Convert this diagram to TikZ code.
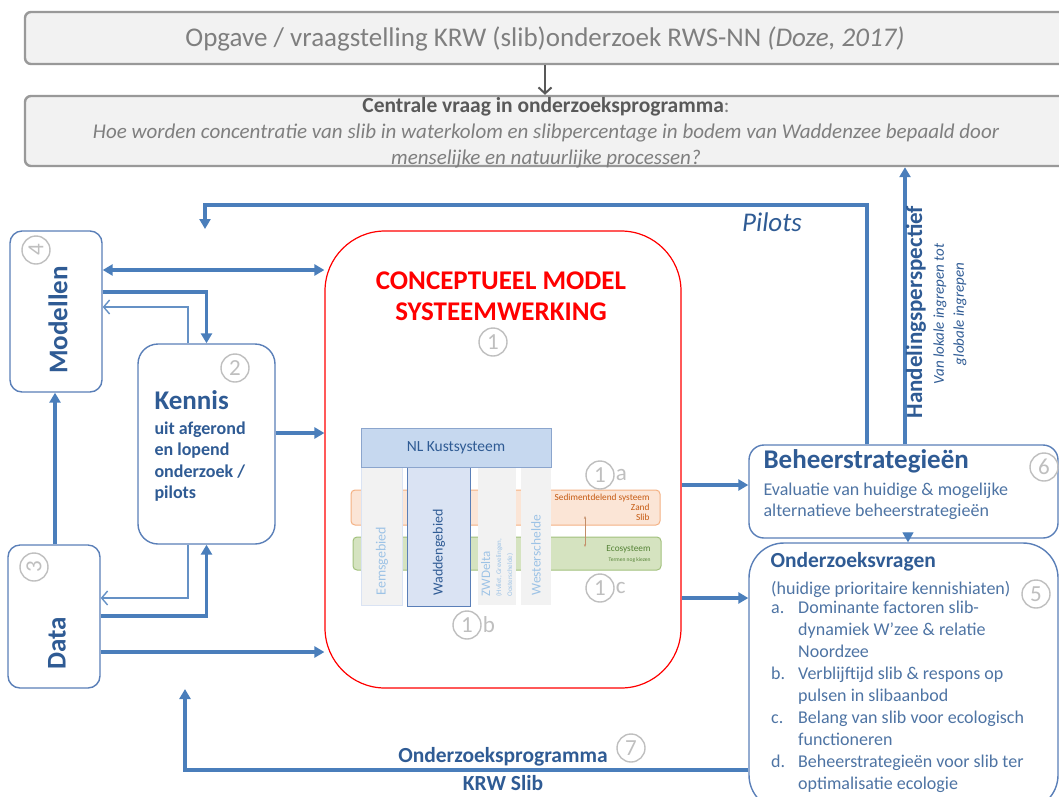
\documentclass[tikz,border=0pt]{standalone}
\usepackage{fontspec}
\setmainfont{Carlito}
\usetikzlibrary{arrows.meta}

\definecolor{lijnblauw}{HTML}{4A7EBB}
\definecolor{tekstblauw}{HTML}{2F5B94}
\definecolor{randblauw}{HTML}{5A7FB8}
\definecolor{grijsvul}{HTML}{F2F2F2}
\definecolor{grijsrand}{HTML}{999999}
\definecolor{grijstekst}{HTML}{7F7F7F}
\definecolor{donkergrijs}{HTML}{595959}
\definecolor{nrgrijs}{HTML}{BFBFBF}
\definecolor{kustblauw}{HTML}{C6D8EF}
\definecolor{lichtblauw}{HTML}{DAE3F3}
\definecolor{vaagblauw}{HTML}{9DC3E6}
\definecolor{oranjevul}{HTML}{FBE5D6}
\definecolor{oranjerand}{HTML}{F4B183}
\definecolor{oranjetekst}{HTML}{C55A11}
\definecolor{groenvul}{HTML}{D5E3C0}
\definecolor{groenrand}{HTML}{A2C17D}
\definecolor{groentekst}{HTML}{548235}

\newcommand{\fsz}[2]{\fontsize{#1}{#2}\selectfont}

\tikzset{
  blok/.style={draw=randblauw, line width=1.4pt, fill=white, rounded corners=#1},
  blok/.default=12pt,
  grijsblok/.style={draw=grijsrand, line width=2.4pt, fill=grijsvul, rounded corners=6pt},
  pijl/.style={draw=lijnblauw, line width=3.2pt, -{Triangle[length=10pt,width=11pt]}},
  dunpijl/.style={draw=lijnblauw!85, line width=1.4pt, -{Straight Barb[length=6pt,width=14pt]}},
  nr/.style={circle, draw=nrgrijs, line width=1.4pt, text=nrgrijs, inner sep=0pt, minimum size=28pt, font=\fsz{23}{23}},
  kolom/.style={fill=grijsvul, draw=lichtblauw, line width=0.8pt, inner sep=0pt},
  kolomtekst/.style={rotate=90, anchor=west, text=vaagblauw, font=\fsz{14}{14}}
}

\begin{document}
\begin{tikzpicture}[x=1pt, y=-1pt]
    \useasboundingbox (0,0) rectangle (1059,796);
    \clip (0,0) rectangle (1059,796);

    % Opgave en centrale vraag
    \node[grijsblok, minimum width=1040pt, minimum height=52pt] (top1) at (545,38) {};
    \node[grijsblok, minimum width=1040pt, minimum height=70pt] (top2) at (545,131) {};
    \node[text=grijstekst, font=\fsz{27}{30}] (opgave) at (545,39)
        {Opgave / vraagstelling KRW (slib)onderzoek RWS-NN \textit{(Doze, 2017)}};
    \node[align=center, text=grijstekst, font=\fsz{21}{26}] (vraag) at (546,133)
        {\textcolor{donkergrijs}{\bfseries\fsz{21.5}{26}Centrale vraag in onderzoeksprogramma}:\\
         \itshape Hoe worden concentratie van slib in waterkolom en slibpercentage in bodem van Waddenzee bepaald door\\
         \itshape menselijke en natuurlijke processen?};
    \draw[draw=donkergrijs, line width=2pt, -{Straight Barb[length=6pt,width=13pt]}] (top1.south) -- (top2.north);

    % Blokken links
    \node[blok=12pt, minimum width=92pt, minimum height=161pt] (mod) at (56,311.5) {};
    \node[blok=20pt, minimum width=137pt, minimum height=200pt] (ken) at (206.5,444) {};
    \node[blok=12pt, minimum width=92pt, minimum height=143pt] (dat) at (54,616.5) {};
    \node[rotate=90, text=tekstblauw, font=\bfseries\fsz{27}{27}] (modtekst) at (58,320) {Modellen};
    \node[rotate=90, text=tekstblauw, font=\bfseries\fsz{27}{27}] (dattekst) at (57,643) {Data};
    \node[anchor=west, text=tekstblauw, font=\bfseries\fsz{27}{27}] (kentitel) at (151,400) {Kennis};
    \node[anchor=north west, align=left, text=tekstblauw, font=\bfseries\fsz{18}{21.5}] (kentekst) at (151,418)
        {uit afgerond\\en lopend\\onderzoek /\\pilots};
    \node[nr, rotate=90] (nr4) at (36,250) {4};
    \node[nr] (nr2) at (235,368) {2};
    \node[nr, rotate=90] (nr3) at (34,567) {3};

    % Conceptueel model
    \node[draw=red, line width=1.2pt, fill=white, rounded corners=60pt, minimum width=356pt, minimum height=457pt] (cm) at (503,459.5) {};
    \node[align=center, text=red, font=\bfseries\fsz{27}{31}] (cmtitel) at (501,296)
        {CONCEPTUEEL MODEL\\SYSTEEMWERKING};
    \node[nr] (nr1) at (493,342) {1};

    % Banden en kolommen
    \node[fill=oranjevul, draw=oranjerand, line width=1pt, rounded corners=4pt, minimum width=309pt, minimum height=35pt] (sed) at (505.5,507.5) {};
    \node[fill=groenvul, draw=groenrand, line width=1pt, rounded corners=4pt, minimum width=308pt, minimum height=33pt] (eco) at (507,553.5) {};
    \node[anchor=north east, align=right, text=oranjetekst, font=\fsz{9.3}{10}] (sedtekst) at (653,490)
        {Sedimentdelend systeem\\Zand\\Slib};
    \node[anchor=north east, align=right, text=groentekst, font=\fsz{9.3}{10}] (ecotekst) at (654,542)
        {Ecosysteem\\{\fsz{5.5}{6}Termen nog kiezen}};
    \draw[oranjerand!80!black, line width=0.6pt, {Stealth[length=3pt]}-{Stealth[length=3pt]}] (585,516) -- (585,547);
    \node[kolom, minimum width=41pt, minimum height=138pt] (eems) at (381.5,536) {};
    \node[kolom, fill=lichtblauw, draw=randblauw, minimum width=63pt, minimum height=139pt] (wadden) at (438.5,536.5) {};
    \node[kolom, draw=none, minimum width=38pt, minimum height=138pt] (zwd) at (497,536) {};
    \node[kolom, draw=none, minimum width=30pt, minimum height=138pt] (wester) at (536,536) {};
    \node[fill=kustblauw, draw=randblauw!70, line width=0.8pt, minimum width=190pt, minimum height=39pt, text=tekstblauw, font=\fsz{15.5}{15.5}] (kust) at (456,447.5) {NL Kustsysteem};
    \node[kolomtekst] (eemstekst) at (382,599) {Eemsgebied};
    \node[kolomtekst, text=tekstblauw] (waddentekst) at (439,599) {Waddengebied};
    \node[kolomtekst, align=left, font=\fsz{13}{11}] (zwdtekst) at (497,600)
        {ZWDelta\\{\fsz{7}{10}(Hvliet, Grevelingen,}\\{\fsz{7}{10}Oosterschelde)}};
    \node[kolomtekst, font=\fsz{13.5}{14}] (westertekst) at (536,599) {Westerschelde};
    \node[nr, label={[text=nrgrijs, font=\fsz{23}{23}, inner sep=1pt]right:a}] (nr1a) at (600,475) {1};
    \node[nr, label={[text=nrgrijs, font=\fsz{23}{23}, inner sep=1pt]right:c}] (nr1c) at (600,588) {1};
    \node[nr, label={[text=nrgrijs, font=\fsz{23}{23}, inner sep=1pt]right:b}] (nr1b) at (467,625) {1};

    % Blokken rechts
    \node[blok=15pt, minimum width=309pt, minimum height=93pt] (bhs) at (903.5,491.5) {};
    \node[blok=35pt, minimum width=309pt, minimum height=267pt] (ovr) at (903.5,676.5) {};
    \node[anchor=west, text=tekstblauw, font=\bfseries\fsz{27}{27}] (bhstitel) at (760,461) {Beheerstrategieën};
    \node[anchor=north west, align=left, text=tekstblauw!85, font=\fsz{18}{21}] (bhstekst) at (760,479)
        {Evaluatie van huidige \& mogelijke\\alternatieve beheerstrategieën};
    \node[nr] (nr6) at (1044,467) {6};
    \node[anchor=west, text=tekstblauw, font=\bfseries\fsz{21.5}{21.5}] (ovrtitel) at (767,562) {Onderzoeksvragen};
    \node[anchor=north west, align=left, text=tekstblauw!85, font=\fsz{18}{22}, inner sep=2pt] (ovrtekst) at (769,579)
        {(huidige prioritaire kennishiaten)\\[0pt]
         \begin{tabular}{@{}p{27pt}@{}l@{}}
           a. & Dominante factoren slib-\\
              & dynamiek W’zee \& relatie\\
              & Noordzee\\
           b. & Verblijftijd slib \& respons op\\
              & pulsen in slibaanbod\\
           c. & Belang van slib voor ecologisch\\
              & functioneren\\
           d. & Beheerstrategieën voor slib ter\\
              & optimalisatie ecologie
         \end{tabular}};
    \node[nr] (nr5) at (1036,594) {5};

    % Verbindingen
    \draw[pijl, {Triangle[length=10pt,width=11pt]}-{Triangle[length=10pt,width=11pt]}] (mod.east |- 0,270) -- (cm.west |- 0,270);
    \draw[pijl] (mod.east |- 0,292) -| (ken.north);
    \draw[dunpijl] (ken.north -| 188,0) |- (mod.east |- 0,307);
    \draw[pijl] (dat.north -| 55,0) -- (mod.south -| 55,0);
    \draw[pijl] (ken.east |- 0,433) -- (cm.west |- 0,433);
    \draw[pijl] (dat.east |- 0,616) -| (ken.south);
    \draw[dunpijl] (ken.south -| 188,0) |- (dat.east |- 0,598);
    \draw[pijl] (dat.east |- 0,652) -- (cm.west |- 0,652);
    \draw[pijl] (cm.east |- 0,485) -- (bhs.west |- 0,485);
    \draw[pijl] (cm.east |- 0,598) -- (ovr.west |- 0,598);
    \draw[pijl, line width=1.2pt] (bhs.south -| 908,0) -- (ovr.north -| 908,0);

    % Pilots, handelingsperspectief en programma
    \coordinate (pilotpunt) at (205,229);
    \coordinate (progpunt) at (185,689);
    \draw[pijl] (bhs.north -| 867,0) |- (pilotpunt |- 0,205) -- (pilotpunt);
    \draw[pijl] (bhs.north -| 905,0) -- (top2.south -| 905,0);
    \draw[pijl] (ovr.west |- 0,770) -| (progpunt);
    \node[text=tekstblauw, font=\itshape\fsz{27}{27}] (pilots) at (772,222) {Pilots};
    \node[rotate=90, text=tekstblauw, font=\bfseries\fsz{23}{23}] (handel) at (916,312) {Handelingsperspectief};
    \node[rotate=90, align=center, text=tekstblauw, font=\itshape\fsz{15}{20}] (handeltekst) at (950,314)
        {Van lokale ingrepen tot\\globale ingrepen};
    \node[text=tekstblauw, font=\bfseries\fsz{21.5}{21.5}] (progtekst) at (503,757) {Onderzoeksprogramma};
    \node[text=tekstblauw, font=\bfseries\fsz{21.5}{21.5}] (krwtekst) at (503,783) {KRW Slib};
    \node[nr] (nr7) at (631,748) {7};
\end{tikzpicture}
\end{document}
